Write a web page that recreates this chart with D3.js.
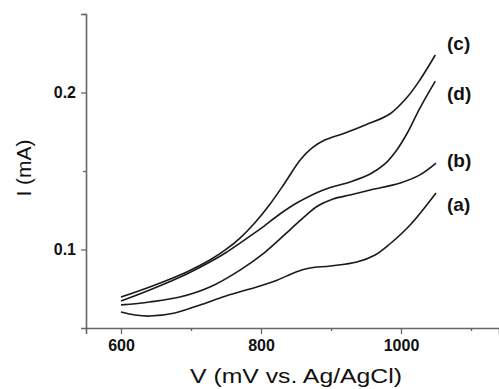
<!DOCTYPE html>
<html>
<head>
<meta charset="utf-8">
<script src="https://cdn.jsdelivr.net/npm/d3@7"></script>
<style>
  html, body { margin: 0; padding: 0; background: #fff; }
  svg { display: block; }
  text { font-family: "Liberation Sans", Arial, sans-serif; fill: #111; }
</style>
</head>
<body>
<svg id="chart" width="499" height="389"></svg>
<script>
// ---- data ----
const seriesNames = ["(a)", "(b)", "(c)", "(d)"];

const vA = [600, 620, 641, 677, 713, 750, 784, 820, 850, 870, 899, 937, 963, 984, 1013, 1050];
const iA = [0.0602, 0.0583, 0.0576, 0.0596, 0.0647, 0.0704, 0.0748, 0.0799, 0.0857, 0.0882, 0.0895, 0.0920, 0.0965, 0.1035, 0.1156, 0.1360];

const vB = [600, 641, 684, 727, 770, 806, 841, 863, 881, 903, 927, 956, 999, 1027, 1050];
const iB = [0.0647, 0.0666, 0.0697, 0.0761, 0.0869, 0.0984, 0.1124, 0.1213, 0.1277, 0.1322, 0.1347, 0.1379, 0.1424, 0.1475, 0.1550];

const vC = [600, 641, 694, 727, 749, 770, 791, 813, 834, 856, 873, 891, 920, 949, 984, 1009, 1027, 1049];
const iC = [0.0697, 0.0761, 0.0857, 0.0933, 0.0997, 0.1073, 0.1169, 0.1290, 0.1424, 0.1570, 0.1647, 0.1697, 0.1742, 0.1793, 0.1863, 0.1971, 0.2080, 0.2239];

const vD = [600, 641, 694, 727, 749, 770, 799, 827, 851, 889, 927, 956, 977, 994, 1009, 1027, 1049];
const iD = [0.0672, 0.0742, 0.0844, 0.0920, 0.0978, 0.1041, 0.1131, 0.1226, 0.1296, 0.1379, 0.1430, 0.1481, 0.1545, 0.1634, 0.1742, 0.1901, 0.2073];

const xMajorTicks = [600, 800, 1000];
const xMinorTicks = [700, 900, 1100];
const yMajorTicks = [0.1, 0.2];
const yMinorTicks = [0.15, 0.25];
const yTickLabels = ["0.1", "0.2"];
const xTitle = "V (mV vs. Ag/AgCl)";
const yTitle = "I (mA)";

// ---- layout ----
const svg = d3.select("#chart");
const x = d3.scaleLinear().domain([550, 1140]).range([86, 499]);
const y = d3.scaleLinear().domain([0.05, 0.25]).range([328, 14]);

const axisColor = "#666";

// x axis
const gx = svg.append("g").attr("transform", `translate(0,${y(0.05)})`);
gx.call(d3.axisBottom(x).tickValues(xMajorTicks).tickSize(6).tickPadding(6).tickFormat(d3.format("d")))
  .call(g => g.select(".domain").attr("stroke", axisColor).attr("stroke-width", 1.6))
  .call(g => g.selectAll(".tick line").attr("stroke", axisColor).attr("stroke-width", 1.3))
  .call(g => g.selectAll(".tick text").attr("font-size", 16).attr("font-weight", "bold")
      .attr("fill", "#222").attr("font-family", "Liberation Sans, Arial, sans-serif"));
gx.append("g").call(d3.axisBottom(x).tickValues(xMinorTicks).tickSize(3).tickFormat(""))
  .call(g => g.select(".domain").remove())
  .call(g => g.selectAll(".tick line").attr("stroke", axisColor).attr("stroke-width", 1.3));

// y axis
const gy = svg.append("g").attr("transform", `translate(${x(550)},0)`);
gy.call(d3.axisLeft(y).tickValues(yMajorTicks).tickSize(5).tickPadding(5)
      .tickFormat((d, i) => yTickLabels[i]))
  .call(g => g.select(".domain").attr("stroke", axisColor).attr("stroke-width", 1.6))
  .call(g => g.selectAll(".tick line").attr("stroke", axisColor).attr("stroke-width", 1.3))
  .call(g => g.selectAll(".tick text").attr("font-size", 16).attr("font-weight", "bold")
      .attr("fill", "#222").attr("font-family", "Liberation Sans, Arial, sans-serif"));
gy.append("g").call(d3.axisLeft(y).tickValues(yMinorTicks).tickSize(3).tickFormat(""))
  .call(g => g.select(".domain").remove())
  .call(g => g.selectAll(".tick line").attr("stroke", axisColor).attr("stroke-width", 1.3));

// curves
const line = d3.line().x(d => x(d[0])).y(d => y(d[1])).curve(d3.curveCatmullRom.alpha(0.5));
const series = [
  { name: seriesNames[0], v: vA, i: iA },
  { name: seriesNames[1], v: vB, i: iB },
  { name: seriesNames[2], v: vC, i: iC },
  { name: seriesNames[3], v: vD, i: iD }
];
svg.append("g").selectAll("path").data(series).join("path")
  .attr("d", s => line(s.v.map((v, k) => [v, s.i[k]])))
  .attr("fill", "none").attr("stroke", "#1a1a1a").attr("stroke-width", 1.6);

// curve labels
const labelY = { "(c)": 0.2315, "(d)": 0.1995, "(b)": 0.157, "(a)": 0.129 };
svg.append("g").selectAll("text").data(series).join("text")
  .attr("x", 447)
  .attr("y", s => y(labelY[s.name]))
  .attr("dy", "0.35em")
  .attr("font-size", 19).attr("font-weight", "bold")
  .text(s => s.name);

// axis titles
svg.append("text")
  .attr("x", 296).attr("y", 383)
  .attr("text-anchor", "middle")
  .attr("font-size", 21)
  .attr("textLength", 212).attr("lengthAdjust", "spacingAndGlyphs")
  .text(xTitle);

svg.append("text")
  .attr("transform", "translate(31,168) rotate(-90)")
  .attr("text-anchor", "middle")
  .attr("font-size", 21)
  .text(yTitle);
</script>
</body>
</html>
